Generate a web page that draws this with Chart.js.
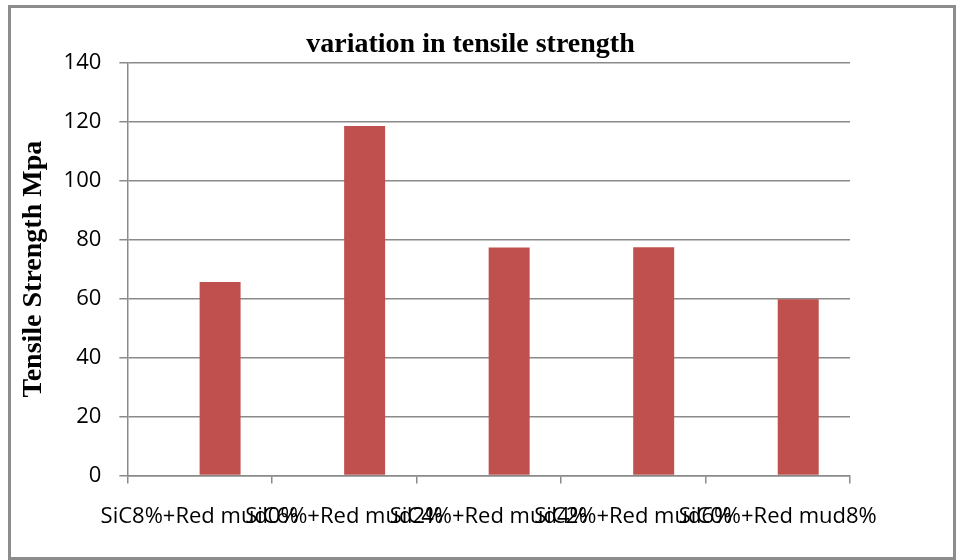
<!DOCTYPE html>
<html>
<head>
<meta charset="utf-8">
<script src="https://cdn.jsdelivr.net/npm/chart.js@4/dist/chart.umd.min.js"></script>
<style>
    html, body { margin: 0; padding: 0; background: #fff; }
    #wrap { position: relative; width: 964px; height: 560px; }
    #frame {
        position: absolute; left: 8px; top: 5px; width: 948px; height: 555px;
        box-sizing: border-box; border: 3px solid #8c8c8c; pointer-events: none;
    }
    canvas { position: absolute; left: 0; top: 0; }
</style>
</head>
<body>
<div id="wrap">
    <canvas id="chart" width="964" height="560"></canvas>
    <div id="frame"></div>
</div>
<script>
// chart data
const categories = [
    'SiC8%+Red mud0%',
    'SiC6%+Red mud2%',
    'SiC4%+Red mud4%',
    'SiC2%+Red mud6%',
    'SiC0%+Red mud8%'
];
// first series is empty in the original sheet, it only takes up the left slot
const emptySeries = [null, null, null, null, null];
const tensileStrength = [65.6, 118.5, 77.3, 77.4, 59.8];
const yTicks = [0, 20, 40, 60, 80, 100, 120, 140];

const axisGray = '#8a8a8a';
const tickFont = { family: '"Open Sans", "Noto Sans", sans-serif', size: 22 };

const ctx = document.getElementById('chart').getContext('2d');

new Chart(ctx, {
    type: 'bar',
    data: {
        labels: categories,
        datasets: [
            {
                label: 'Series1',
                data: emptySeries,
                backgroundColor: '#C0504D'
            },
            {
                label: 'Tensile Strength',
                data: tensileStrength,
                backgroundColor: '#C0504D'
            }
        ]
    },
    options: {
        responsive: false,
        animation: false,
        datasets: {
            bar: {
                barPercentage: 1.0,
                categoryPercentage: 0.567
            }
        },
        layout: {
            padding: { left: 17, right: 40, top: 4, bottom: 10 }
        },
        scales: {
            x: {
                offset: true,
                grid: {
                    offset: true,
                    drawOnChartArea: false,
                    drawTicks: true,
                    tickLength: 8,
                    color: axisGray,
                    lineWidth: 1.5
                },
                border: { color: axisGray, width: 1.5 },
                ticks: {
                    autoSkip: false,
                    maxRotation: 0,
                    minRotation: 0,
                    padding: 20,
                    color: '#000',
                    font: tickFont
                }
            },
            y: {
                min: 0,
                max: 140,
                afterBuildTicks: function(axis) {
                    axis.ticks = yTicks.map(v => ({ value: v }));
                },
                grid: {
                    color: axisGray,
                    lineWidth: 1.5,
                    tickLength: 8
                },
                border: { color: axisGray, width: 1.5 },
                ticks: {
                    padding: 18,
                    color: '#000',
                    font: tickFont
                },
                title: {
                    display: true,
                    text: 'Tensile Strength Mpa',
                    color: '#000',
                    padding: { top: 0, bottom: -5 },
                    font: { family: '"Liberation Serif", serif', size: 28, weight: 'bold' }
                }
            },
            // blank space on the right, keeps the title centred like the original
            yRight: {
                position: 'right',
                display: true,
                grid: { display: false },
                border: { display: false },
                ticks: { display: false },
                afterFit: function(axis) {
                    axis.width = 74;
                }
            }
        },
        plugins: {
            legend: { display: false },
            tooltip: { enabled: false },
            title: {
                display: true,
                text: 'variation in tensile strength',
                color: '#000',
                padding: { top: 24, bottom: 1 },
                font: { family: '"Liberation Serif", serif', size: 28, weight: 'bold' }
            }
        }
    }
});
</script>
</body>
</html>
